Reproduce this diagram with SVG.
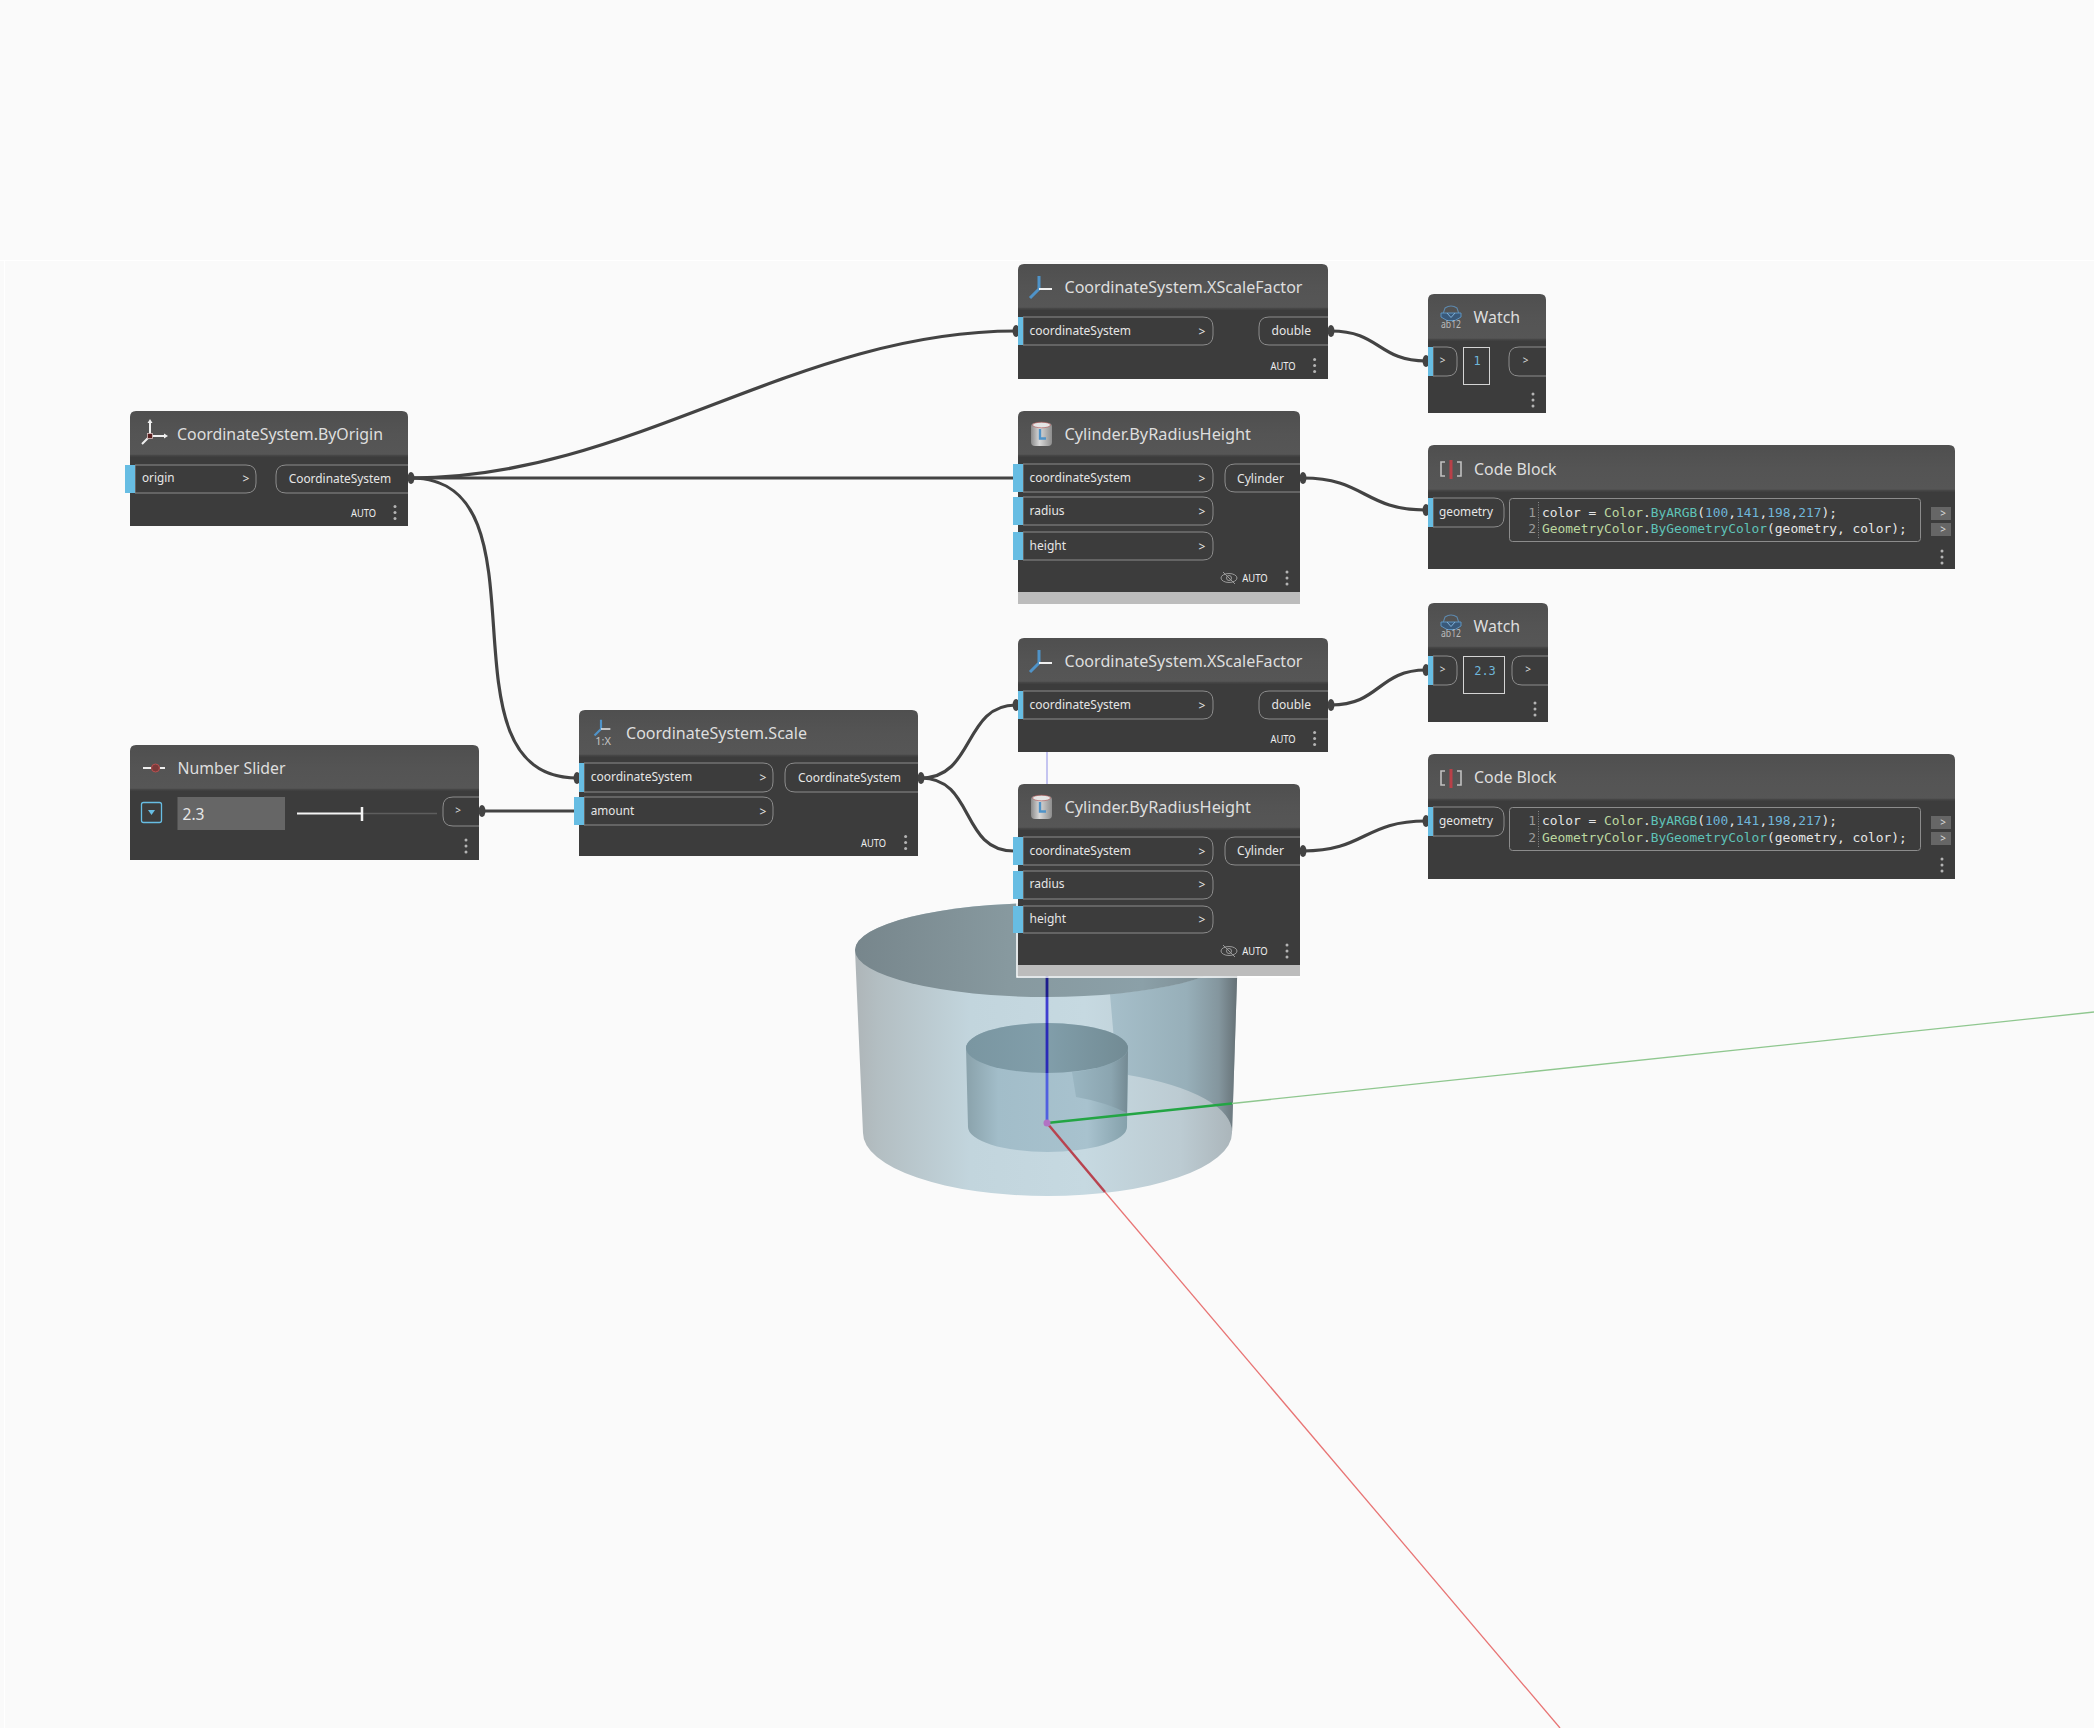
<svg xmlns="http://www.w3.org/2000/svg" xmlns:xlink="http://www.w3.org/1999/xlink" width="2094" height="1728" viewBox="0 0 2094 1728">
<style>
text{font-family:"Noto Sans","Open Sans","Liberation Sans",sans-serif}
.hd{fill:url(#hg)}
.bd{fill:#3c3c3c}
.gy{fill:#bcbcbc}
.ti{font-size:16px;fill:#dedede}
.pt{font-size:12px;fill:#e6e6e6}
.ar{font-size:12px;fill:#e6e6e6;text-anchor:middle}
.sm{font-size:10px;fill:#dcdcdc;text-anchor:middle}
.au{font-size:10.5px;fill:#eeeeee}
.pl{fill:#3c3c3c;stroke:#8c8c8c;stroke-width:1}
.br{fill:#67bde3}
.dt{fill:#b4b4b4}
.cn{fill:none;stroke:#434343;stroke-width:3.200}
.kn{fill:#434343}
.cb{fill:#3c3c3c;stroke:#8c8c8c;stroke-width:1}
.wb{fill:#3c3c3c;stroke:#d4d4d4;stroke-width:1}
.mn{font-family:"DejaVu Sans Mono","Liberation Mono",monospace;font-size:12.9px;fill:#e6e6e6}
.ln{fill:#9a9a9a;text-anchor:end}
.g{fill:#bcd8a0}.t{fill:#5fc3b8}.n{fill:#6fb6da}
.wv{font-family:"DejaVu Sans Mono","Liberation Mono",monospace;font-size:12px;fill:#6fb6da;text-anchor:middle}
.ob{fill:#666666}
.dv{stroke:#8a8a8a;stroke-width:1;stroke-dasharray:1 1.5}
</style>
<defs>
<linearGradient id="hg" x1="0" y1="0" x2="0" y2="1"><stop offset="0" stop-color="#4f4f4f"/><stop offset=".5" stop-color="#545454"/><stop offset=".94" stop-color="#565656"/><stop offset=".96" stop-color="#484848"/><stop offset="1" stop-color="#3e3e3e"/></linearGradient>
<linearGradient id="ow"><stop offset="0" stop-color="#aeb5b8"/><stop offset=".06" stop-color="#b3bec2"/><stop offset=".3" stop-color="#c2d5dd"/><stop offset=".6" stop-color="#c6d9e1"/><stop offset=".85" stop-color="#bccbd2"/><stop offset="1" stop-color="#a9b3b8"/></linearGradient>
<linearGradient id="ot"><stop offset="0" stop-color="#77868c"/><stop offset=".4" stop-color="#87999f"/><stop offset=".75" stop-color="#8ba0a8"/><stop offset="1" stop-color="#75848a"/></linearGradient>
<linearGradient id="op"><stop offset="0" stop-color="#a6bfca"/><stop offset=".6" stop-color="#97afb9"/><stop offset=".85" stop-color="#84969e"/><stop offset="1" stop-color="#646f74"/></linearGradient>
<linearGradient id="iw"><stop offset="0" stop-color="#8aa2ab"/><stop offset=".2" stop-color="#a2bdc9"/><stop offset=".75" stop-color="#a8c2ce"/><stop offset="1" stop-color="#84a0aa"/></linearGradient>
<linearGradient id="it"><stop offset="0" stop-color="#7a96a1"/><stop offset=".5" stop-color="#819eaa"/><stop offset="1" stop-color="#728b94"/></linearGradient>
<linearGradient id="ip"><stop offset="0" stop-color="#9ab6c2"/><stop offset=".7" stop-color="#8ba5b0"/><stop offset="1" stop-color="#748a93"/></linearGradient>
<linearGradient id="cy"><stop offset="0" stop-color="#8a8a8a"/><stop offset=".4" stop-color="#d8d8d8"/><stop offset="1" stop-color="#8e8e8e"/></linearGradient>
<g id="iAxW"><path d="M150 436V422M150 436H165M150 436L142 444" fill="none" stroke="#f0f0f0" stroke-width="2"/><path d="M147.500 423L150 419L152.500 423ZM164 433.500L168 436L164 438.500Z" fill="#f0f0f0"/><rect x="147.500" y="433.500" width="5" height="5" fill="#5a2020" stroke="#d8c0c0" stroke-width=".8"/></g>
<g id="iAxB"><path d="M0 0V-13M0 0L-9 9" fill="none" stroke="#4f93c8" stroke-width="3"/><path d="M0 0H13" fill="none" stroke="#f0f0f0" stroke-width="2"/></g>
<g id="iCy"><rect x="0" y="2" width="21" height="23" rx="4" fill="url(#cy)"/><ellipse cx="10.500" cy="4" rx="9" ry="2.800" fill="#e4e4e4" stroke="#b05050" stroke-width=".6"/><path d="M9 8V17.500H15" fill="none" stroke="#4f93c8" stroke-width="2.400"/></g>
<g id="iWa"><path d="M2 8L4 2Q10 -2 16 2L18 8" fill="none" stroke="#5d89ae" stroke-width="1.100"/><path d="M0 7H20V11L14 14.500H6L0 11Z" fill="#39597a" stroke="#5d93c0" stroke-width="1"/><path d="M6 7L10 11.500L14 7" fill="none" stroke="#7fb0d8" stroke-width="1"/><text x="10" y="21.500" text-anchor="middle" textLength="20" lengthAdjust="spacingAndGlyphs" style="font-size:10px;fill:#bcbcbc">ab12</text></g>
<g id="iCo"><path d="M5 0H1V14H5M17 0H21V14H17" fill="none" stroke="#c0c0c0" stroke-width="1.600"/><path d="M11 -2V17" stroke="#b84048" stroke-width="3"/></g>
<g id="iEy"><ellipse cx="0" cy="0" rx="8" ry="4.500" fill="none" stroke="#9a9a9a" stroke-width="1"/><circle cx="0" cy="0" r="2.500" fill="none" stroke="#9a9a9a" stroke-width="1"/><path d="M-6 -6L6 6" stroke="#9a9a9a" stroke-width="1"/></g>
<g id="iDt"><circle cx="0" cy="-6" r="1.500" class="dt"/><circle cx="0" cy="0" r="1.500" class="dt"/><circle cx="0" cy="6" r="1.500" class="dt"/></g>
</defs>
<rect width="2094" height="1728" fill="#fafafa"/>
<path d="M0 260.500H2094M4.500 261V1728" stroke="#ffffff" stroke-width="1" fill="none"/>

<g id="geometry">
<path d="M855 950L863 1133A184.500 63 0 0 0 1232 1133L1238 950A191.500 47 0 0 0 855 950Z" fill="url(#ow)"/>
<path d="M1110 994L1114 1040L1128 1075A184.500 63 0 0 1 1232 1133L1238 950A191.500 47 0 0 1 1110 994Z" fill="url(#op)"/>
<ellipse cx="1046.500" cy="950" rx="191.500" ry="47" fill="url(#ot)"/>
<path d="M966 1048L968 1127A79.500 25 0 0 0 1127 1127L1128 1048A81 25 0 0 0 966 1048Z" fill="url(#iw)"/>
<path d="M1072 1072L1076 1097Q1105 1102 1127 1113L1128 1048A81 25 0 0 1 1072 1072Z" fill="url(#ip)"/>
<ellipse cx="1047" cy="1048" rx="81" ry="25" fill="url(#it)"/>
<path d="M1047 752V784" stroke="#c4c4f0" stroke-width="2" fill="none"/>
<path d="M1047 976V997" stroke="#1c1c8c" stroke-width="2.800" fill="none"/>
<path d="M1047 997V1023" stroke="#3f3fd0" stroke-width="2.800" fill="none"/>
<path d="M1047 1023V1073" stroke="#2a2ab8" stroke-width="2.800" fill="none"/>
<path d="M1047 1073V1123" stroke="#5060e0" stroke-width="2.800" fill="none"/>
<path d="M1047 1123L1232 1103.500" stroke="#23a544" stroke-width="2.500" fill="none"/>
<path d="M1232 1103.500L2094 1012" stroke="#8fc78f" stroke-width="1.300" fill="none"/>
<path d="M1047 1123L1105 1192" stroke="#b8434f" stroke-width="2.500" fill="none"/>
<path d="M1105 1192L1560 1728" stroke="#e87474" stroke-width="1.300" fill="none"/>
<circle cx="1047" cy="1123" r="3.500" fill="#b272c4"/>
</g>

<g id="connectors">
<path class="cn" d="M411 478C631 478 796 331 1016 331"/>
<path class="cn" d="M411 478H1014"/>
<path class="cn" d="M411 478C556 478 431 778 577 778"/>
<path class="cn" d="M482 811H574"/>
<path class="cn" d="M921 778C975 778 963 705 1016 705"/>
<path class="cn" d="M921 778C975 778 960 851 1014 851"/>
<path class="cn" d="M1331 331C1380 331 1378 361 1426 361"/>
<path class="cn" d="M1303 478C1365 478 1364 510 1426 510"/>
<path class="cn" d="M1331 705C1380 705 1378 670 1426 670"/>
<path class="cn" d="M1303 851C1365 851 1364 821 1426 821"/>
<g class="kn">
<ellipse cx="411" cy="478" rx="3.500" ry="6"/><ellipse cx="482" cy="811" rx="3.500" ry="6"/><ellipse cx="921" cy="778" rx="3.500" ry="6"/>
<ellipse cx="1331" cy="331" rx="3.500" ry="6"/><ellipse cx="1303" cy="478" rx="3.500" ry="6"/><ellipse cx="1331" cy="705" rx="3.500" ry="6"/><ellipse cx="1303" cy="851" rx="3.500" ry="6"/>
<ellipse cx="1016" cy="331" rx="3.500" ry="6"/><ellipse cx="1016" cy="705" rx="3.500" ry="6"/><ellipse cx="577" cy="778" rx="3.500" ry="6"/>
<ellipse cx="1426" cy="361" rx="3.500" ry="6"/><ellipse cx="1426" cy="510" rx="3.500" ry="6"/><ellipse cx="1426" cy="670" rx="3.500" ry="6"/><ellipse cx="1426" cy="821" rx="3.500" ry="6"/>
</g>
</g>

<g id="node-byorigin">
<path class="hd" d="M130 457V417Q130 411 136 411H402Q408 411 408 417V457Z"/><rect class="bd" x="130" y="457" width="278" height="69"/>
<use xlink:href="#iAxW"/>
<text class="ti" x="177" y="440" textLength="206" lengthAdjust="spacingAndGlyphs">CoordinateSystem.ByOrigin</text>
<path class="pl" d="M135 465H246Q256 465 256 475V483Q256 493 246 493H135Z"/><rect class="br" x="125" y="465" width="10" height="28"/>
<text class="pt" x="142" y="482" textLength="32.500" lengthAdjust="spacingAndGlyphs">origin</text><text class="ar" x="246" y="483">&gt;</text>
<path class="pl" d="M408 465H286Q276 465 276 475V483Q276 493 286 493H408"/>
<text class="pt" x="288.700" y="482.500" textLength="102.500" lengthAdjust="spacingAndGlyphs">CoordinateSystem</text>
<text class="au" x="351" y="516.500" textLength="25" lengthAdjust="spacingAndGlyphs">AUTO</text><use xlink:href="#iDt" x="395" y="512.500"/>
</g>

<g id="node-xscale-1">
<path class="hd" d="M1018 310V270Q1018 264 1024 264H1322Q1328 264 1328 270V310Z"/><rect class="bd" x="1018" y="310" width="310" height="69"/>
<use xlink:href="#iAxB" x="1039" y="289"/>
<text class="ti" x="1064.500" y="293" textLength="238" lengthAdjust="spacingAndGlyphs">CoordinateSystem.XScaleFactor</text>
<path class="pl" d="M1023 317H1203Q1213 317 1213 327V335Q1213 345 1203 345H1023Z"/><rect class="br" x="1018" y="317" width="5" height="28"/>
<text class="pt" x="1029.600" y="335" textLength="101.500" lengthAdjust="spacingAndGlyphs">coordinateSystem</text><text class="ar" x="1202" y="336">&gt;</text>
<path class="pl" d="M1328 317H1269Q1259 317 1259 327V335Q1259 345 1269 345H1328"/>
<text class="pt" x="1271.500" y="335" textLength="39.500" lengthAdjust="spacingAndGlyphs">double</text>
<text class="au" x="1270.400" y="369.500" textLength="25.200" lengthAdjust="spacingAndGlyphs">AUTO</text><use xlink:href="#iDt" x="1314.600" y="365.500"/>
</g>

<g id="node-cylinder-1">
<path class="hd" d="M1018 457V417Q1018 411 1024 411H1294Q1300 411 1300 417V457Z"/><rect class="bd" x="1018" y="457" width="282" height="135"/><rect class="gy" x="1018" y="592" width="282" height="12"/>
<use xlink:href="#iCy" x="1031" y="421"/>
<text class="ti" x="1064.500" y="440" textLength="186.500" lengthAdjust="spacingAndGlyphs">Cylinder.ByRadiusHeight</text>
<path class="pl" d="M1023 464H1203Q1213 464 1213 474V482Q1213 492 1203 492H1023Z"/><rect class="br" x="1013" y="464" width="10" height="28"/>
<path class="pl" d="M1023 497H1203Q1213 497 1213 507V515Q1213 525 1203 525H1023Z"/><rect class="br" x="1013" y="497" width="10" height="28"/>
<path class="pl" d="M1023 532H1203Q1213 532 1213 542V550Q1213 560 1203 560H1023Z"/><rect class="br" x="1013" y="532" width="10" height="28"/>
<text class="pt" x="1029.600" y="482" textLength="101.500" lengthAdjust="spacingAndGlyphs">coordinateSystem</text><text class="ar" x="1202" y="483">&gt;</text>
<text class="pt" x="1029.600" y="515" textLength="35" lengthAdjust="spacingAndGlyphs">radius</text><text class="ar" x="1202" y="516">&gt;</text>
<text class="pt" x="1029.600" y="550" textLength="36.500" lengthAdjust="spacingAndGlyphs">height</text><text class="ar" x="1202" y="551">&gt;</text>
<path class="pl" d="M1300 464H1235Q1225 464 1225 474V482Q1225 492 1235 492H1300"/>
<text class="pt" x="1237" y="483" textLength="47" lengthAdjust="spacingAndGlyphs">Cylinder</text>
<use xlink:href="#iEy" x="1229" y="578"/>
<text class="au" x="1242.300" y="582" textLength="25.400" lengthAdjust="spacingAndGlyphs">AUTO</text><use xlink:href="#iDt" x="1287" y="578"/>
</g>

<g id="node-watch-1">
<path class="hd" d="M1428 341V300Q1428 294 1434 294H1540Q1546 294 1546 300V341Z"/><rect class="bd" x="1428" y="341" width="118" height="72"/>
<use xlink:href="#iWa" x="1441" y="306"/>
<text class="ti" x="1473.600" y="323" textLength="46.500" lengthAdjust="spacingAndGlyphs">Watch</text>
<path class="pl" d="M1433 347H1447Q1457 347 1457 357V366Q1457 376 1447 376H1433Z"/><rect class="br" x="1428" y="347" width="5" height="29"/>
<text class="sm" x="1442.700" y="364">&gt;</text>
<rect class="wb" x="1463.500" y="347.500" width="26" height="37"/><text class="wv" x="1477" y="365">1</text>
<path class="pl" d="M1546 347H1519Q1509 347 1509 357V366Q1509 376 1519 376H1546"/><text class="sm" x="1525.700" y="364">&gt;</text>
<use xlink:href="#iDt" x="1533" y="400"/>
</g>

<g id="node-codeblock-1">
<path class="hd" d="M1428 492V451Q1428 445 1434 445H1949Q1955 445 1955 451V492Z"/><rect class="bd" x="1428" y="492" width="527" height="77"/>
<use xlink:href="#iCo" x="1440" y="462"/>
<text class="ti" x="1474" y="475" textLength="82.600" lengthAdjust="spacingAndGlyphs">Code Block</text>
<path class="pl" d="M1433 498H1494Q1504 498 1504 508V517Q1504 527 1494 527H1433Z"/><rect class="br" x="1428" y="498" width="5" height="29"/>
<text class="pt" x="1439" y="516" textLength="54" lengthAdjust="spacingAndGlyphs">geometry</text>
<rect class="cb" x="1509.500" y="498.500" width="411" height="43" rx="3"/><path class="dv" d="M1538.500 502V538"/>
<text class="mn ln" x="1536" y="517">1</text><text class="mn ln" x="1536" y="533">2</text>
<text class="mn" x="1542" y="517">color = <tspan class="g">Color</tspan>.<tspan class="t">ByARGB</tspan>(<tspan class="n">100</tspan>,<tspan class="n">141</tspan>,<tspan class="n">198</tspan>,<tspan class="n">217</tspan>);</text>
<text class="mn" x="1542" y="533"><tspan class="g">GeometryColor</tspan>.<tspan class="t">ByGeometryColor</tspan>(geometry, color);</text>
<rect class="ob" x="1931" y="507" width="20" height="13"/><rect class="ob" x="1931" y="523" width="20" height="13"/>
<text class="sm" x="1943" y="517">&gt;</text><text class="sm" x="1943" y="533">&gt;</text>
<use xlink:href="#iDt" x="1942" y="557"/>
</g>

<g id="node-slider">
<path class="hd" d="M130 791V751Q130 745 136 745H473Q479 745 479 751V791Z"/><rect class="bd" x="130" y="791" width="349" height="69"/>
<path d="M143 768H151M160 768H165" stroke="#eeeeee" stroke-width="2" fill="none"/><circle cx="155.500" cy="768" r="4" fill="#7a3a3a" stroke="#b85050" stroke-width="1"/>
<text class="ti" x="177.500" y="774" textLength="108" lengthAdjust="spacingAndGlyphs">Number Slider</text>
<rect x="141.500" y="802.500" width="20" height="20" rx="2" fill="#3c3c3c" stroke="#67bde3" stroke-width="1.300"/><path d="M148 810H155L151.500 815Z" fill="#67bde3"/>
<rect x="177.500" y="797" width="107.500" height="33" fill="#666666"/><text x="182.500" y="819.500" style="font-size:16.500px;fill:#e6e6e6" textLength="22" lengthAdjust="spacingAndGlyphs">2.3</text>
<path d="M362 813.500H437" stroke="#5e5e5e" stroke-width="1.500" fill="none"/><path d="M297 813.500H362" stroke="#f4f4f4" stroke-width="2" fill="none"/><path d="M362 807V821" stroke="#f4f4f4" stroke-width="2.500" fill="none"/>
<path class="pl" d="M479 797H453Q443 797 443 807V816Q443 826 453 826H479"/><text class="sm" x="458" y="814">&gt;</text>
<use xlink:href="#iDt" x="466" y="846"/>
</g>

<g id="node-scale">
<path class="hd" d="M579 757V716Q579 710 585 710H912Q918 710 918 716V757Z"/><rect class="bd" x="579" y="757" width="339" height="99"/>
<use xlink:href="#iAxB" transform="translate(601 729) scale(.72)"/><text x="603" y="745" text-anchor="middle" style="font-size:11px;fill:#c4c4c4">1:X</text>
<text class="ti" x="626" y="739" textLength="181" lengthAdjust="spacingAndGlyphs">CoordinateSystem.Scale</text>
<path class="pl" d="M584 763H763Q773 763 773 773V782Q773 792 763 792H584Z"/><rect class="br" x="579" y="763" width="5" height="29"/>
<path class="pl" d="M584 797H763Q773 797 773 807V815Q773 825 763 825H584Z"/><rect class="br" x="574" y="797" width="10" height="28"/>
<text class="pt" x="590.700" y="781" textLength="101.500" lengthAdjust="spacingAndGlyphs">coordinateSystem</text><text class="ar" x="763" y="782">&gt;</text>
<text class="pt" x="590.700" y="815" textLength="43.500" lengthAdjust="spacingAndGlyphs">amount</text><text class="ar" x="763" y="816">&gt;</text>
<path class="pl" d="M918 763H795Q785 763 785 773V782Q785 792 795 792H918"/>
<text class="pt" x="798" y="782" textLength="103" lengthAdjust="spacingAndGlyphs">CoordinateSystem</text>
<text class="au" x="861" y="846.500" textLength="25" lengthAdjust="spacingAndGlyphs">AUTO</text><use xlink:href="#iDt" x="905.600" y="842.500"/>
</g>

<g id="node-xscale-2">
<path class="hd" d="M1018 684V644Q1018 638 1024 638H1322Q1328 638 1328 644V684Z"/><rect class="bd" x="1018" y="684" width="310" height="68"/>
<use xlink:href="#iAxB" x="1039" y="663"/>
<text class="ti" x="1064.500" y="667" textLength="238" lengthAdjust="spacingAndGlyphs">CoordinateSystem.XScaleFactor</text>
<path class="pl" d="M1023 691H1203Q1213 691 1213 701V709Q1213 719 1203 719H1023Z"/><rect class="br" x="1018" y="691" width="5" height="28"/>
<text class="pt" x="1029.600" y="708.500" textLength="101.500" lengthAdjust="spacingAndGlyphs">coordinateSystem</text><text class="ar" x="1202" y="710">&gt;</text>
<path class="pl" d="M1328 691H1269Q1259 691 1259 701V709Q1259 719 1269 719H1328"/>
<text class="pt" x="1271.500" y="709" textLength="39.500" lengthAdjust="spacingAndGlyphs">double</text>
<text class="au" x="1270.400" y="742.500" textLength="25.200" lengthAdjust="spacingAndGlyphs">AUTO</text><use xlink:href="#iDt" x="1314.600" y="738.500"/>
</g>

<g id="node-cylinder-2">
<path class="hd" d="M1018 830V790Q1018 784 1024 784H1294Q1300 784 1300 790V830Z"/><rect class="bd" x="1018" y="830" width="282" height="135"/><rect class="gy" x="1018" y="965" width="282" height="11"/>
<path d="M1017 900V977H1300" fill="none" stroke="#ffffff" stroke-width="1.500"/>
<use xlink:href="#iCy" x="1031" y="794"/>
<text class="ti" x="1064.500" y="813" textLength="186.500" lengthAdjust="spacingAndGlyphs">Cylinder.ByRadiusHeight</text>
<path class="pl" d="M1023 837H1203Q1213 837 1213 847V855Q1213 865 1203 865H1023Z"/><rect class="br" x="1013" y="837" width="10" height="28"/>
<path class="pl" d="M1023 871H1203Q1213 871 1213 881V889Q1213 899 1203 899H1023Z"/><rect class="br" x="1013" y="871" width="10" height="28"/>
<path class="pl" d="M1023 906H1203Q1213 906 1213 916V923Q1213 933 1203 933H1023Z"/><rect class="br" x="1013" y="906" width="10" height="27"/>
<text class="pt" x="1029.600" y="855" textLength="101.500" lengthAdjust="spacingAndGlyphs">coordinateSystem</text><text class="ar" x="1202" y="856">&gt;</text>
<text class="pt" x="1029.600" y="888" textLength="35" lengthAdjust="spacingAndGlyphs">radius</text><text class="ar" x="1202" y="889">&gt;</text>
<text class="pt" x="1029.600" y="923" textLength="36.500" lengthAdjust="spacingAndGlyphs">height</text><text class="ar" x="1202" y="924">&gt;</text>
<path class="pl" d="M1300 837H1235Q1225 837 1225 847V855Q1225 865 1235 865H1300"/>
<text class="pt" x="1237" y="855" textLength="47" lengthAdjust="spacingAndGlyphs">Cylinder</text>
<use xlink:href="#iEy" x="1229" y="951"/>
<text class="au" x="1242.300" y="955" textLength="25.400" lengthAdjust="spacingAndGlyphs">AUTO</text><use xlink:href="#iDt" x="1287" y="951"/>
</g>

<g id="node-watch-2">
<path class="hd" d="M1428 649V609Q1428 603 1434 603H1542Q1548 603 1548 609V649Z"/><rect class="bd" x="1428" y="649" width="120" height="73"/>
<use xlink:href="#iWa" x="1441" y="615"/>
<text class="ti" x="1473.600" y="632" textLength="46.500" lengthAdjust="spacingAndGlyphs">Watch</text>
<path class="pl" d="M1433 656H1447Q1457 656 1457 666V675Q1457 685 1447 685H1433Z"/><rect class="br" x="1428" y="656" width="5" height="29"/>
<text class="sm" x="1442.700" y="673">&gt;</text>
<rect class="wb" x="1463.500" y="656.500" width="41" height="37"/><text class="wv" x="1485" y="674.500">2.3</text>
<path class="pl" d="M1548 656H1522Q1512 656 1512 666V675Q1512 685 1522 685H1548"/><text class="sm" x="1528" y="673">&gt;</text>
<use xlink:href="#iDt" x="1535" y="709"/>
</g>

<g id="node-codeblock-2">
<path class="hd" d="M1428 801V760Q1428 754 1434 754H1949Q1955 754 1955 760V801Z"/><rect class="bd" x="1428" y="801" width="527" height="78"/>
<use xlink:href="#iCo" x="1440" y="771"/>
<text class="ti" x="1474" y="783" textLength="82.600" lengthAdjust="spacingAndGlyphs">Code Block</text>
<path class="pl" d="M1433 807H1494Q1504 807 1504 817V826Q1504 836 1494 836H1433Z"/><rect class="br" x="1428" y="807" width="5" height="29"/>
<text class="pt" x="1439" y="825" textLength="54" lengthAdjust="spacingAndGlyphs">geometry</text>
<rect class="cb" x="1509.500" y="807.500" width="411" height="43" rx="3"/><path class="dv" d="M1538.500 811V847"/>
<text class="mn ln" x="1536" y="825">1</text><text class="mn ln" x="1536" y="842">2</text>
<text class="mn" x="1542" y="825">color = <tspan class="g">Color</tspan>.<tspan class="t">ByARGB</tspan>(<tspan class="n">100</tspan>,<tspan class="n">141</tspan>,<tspan class="n">198</tspan>,<tspan class="n">217</tspan>);</text>
<text class="mn" x="1542" y="842"><tspan class="g">GeometryColor</tspan>.<tspan class="t">ByGeometryColor</tspan>(geometry, color);</text>
<rect class="ob" x="1931" y="816" width="20" height="13"/><rect class="ob" x="1931" y="832" width="20" height="13"/>
<text class="sm" x="1943" y="826">&gt;</text><text class="sm" x="1943" y="842">&gt;</text>
<use xlink:href="#iDt" x="1942" y="865"/>
</g>
</svg>
